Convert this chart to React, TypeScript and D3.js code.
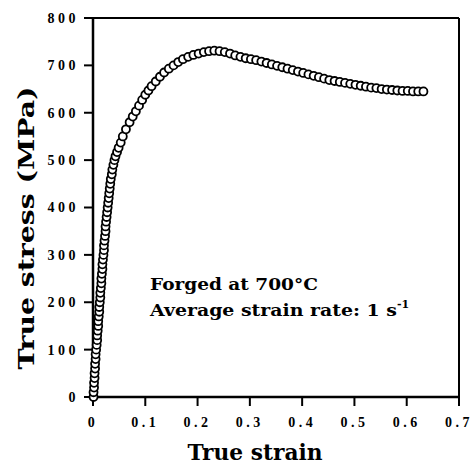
import React from "react";
import * as d3 from "d3";

const strain: number[] = [
  0.001, 0.001, 0.002, 0.002, 0.003, 0.003, 0.004, 0.004, 0.005, 0.005,
  0.006, 0.007, 0.008, 0.008, 0.009, 0.010, 0.010, 0.011, 0.012, 0.012,
  0.013, 0.014, 0.014, 0.015, 0.016, 0.016, 0.017, 0.018, 0.018, 0.019,
  0.020, 0.021, 0.021, 0.022, 0.023, 0.024, 0.024, 0.025, 0.026, 0.027,
  0.028, 0.029, 0.030, 0.031, 0.032, 0.033, 0.034, 0.036, 0.037, 0.039,
  0.041, 0.043, 0.046, 0.049, 0.053, 0.057, 0.063, 0.070, 0.076, 0.082,
  0.088, 0.094, 0.100, 0.106, 0.112, 0.120, 0.128, 0.136, 0.145, 0.154,
  0.163, 0.172, 0.182, 0.192, 0.202, 0.212, 0.222, 0.232, 0.242, 0.252,
  0.262, 0.272, 0.282, 0.292, 0.302, 0.312, 0.322, 0.332, 0.342, 0.352,
  0.362, 0.372, 0.382, 0.392, 0.402, 0.412, 0.422, 0.432, 0.442, 0.452,
  0.462, 0.472, 0.482, 0.492, 0.502, 0.512, 0.522, 0.532, 0.542, 0.552,
  0.562, 0.572, 0.582, 0.592, 0.602, 0.612, 0.622, 0.632,
];

const stress: number[] = [
  0, 10, 20, 30, 40, 50, 60, 70, 80, 90,
  100, 110, 120, 130, 140, 150, 160, 170, 180, 190,
  200, 210, 220, 230, 240, 250, 260, 270, 280, 290,
  300, 310, 320, 330, 340, 350, 360, 370, 380, 390,
  400, 410, 420, 430, 440, 450, 460, 470, 480, 490,
  500, 508, 517, 526, 537, 550, 565, 580, 592, 603,
  615, 627, 638, 647, 656, 666, 676, 685, 693, 700,
  707, 713, 718, 722, 725, 728, 730, 731, 730, 728,
  725, 721, 718, 715, 713, 711, 708, 705, 702, 699,
  696, 693, 690, 687, 684, 681, 678, 675, 672, 669,
  667, 665, 663, 661, 659, 657, 655, 653, 652, 650,
  649, 648, 647, 646, 646, 645, 645, 645,
];

const xTicks: number[] = [0, 0.1, 0.2, 0.3, 0.4, 0.5, 0.6, 0.7];
const xTickLabels: string[] = ["0", "0.1", "0.2", "0.3", "0.4", "0.5", "0.6", "0.7"];
const yTicks: number[] = [0, 100, 200, 300, 400, 500, 600, 700, 800];
const yTickLabels: string[] = ["0", "100", "200", "300", "400", "500", "600", "700", "800"];

const xTitle = "True strain";
const yTitle = "True stress (MPa)";
const note1 = "Forged at 700°C";
const note2 = "Average strain rate: 1 s";
const note2sup = "-1";

const W = 474;
const H = 468;
const left = 93;
const right = 459;
const top = 18;
const bottom = 397;

export default function App() {
  const x = d3.scaleLinear().domain([0, 0.7]).range([left, right]);
  const y = d3.scaleLinear().domain([0, 800]).range([bottom, top]);
  const tickFont = "'Liberation Serif', serif";
  const titleFont = "'DejaVu Serif', 'Liberation Serif', serif";
  const pts = strain.map((s, i) => [s, stress[i]] as [number, number]);

  return (
    <svg
      width={W}
      height={H}
      style={{ position: "absolute", left: 0, top: 0, background: "#fff" }}
    >
      <rect x={0} y={0} width={W} height={H} fill="#fff" />
      {/* frame */}
      <line x1={left} y1={top} x2={right} y2={top} stroke="#000" strokeWidth={2} />
      <line x1={right} y1={top} x2={right} y2={bottom} stroke="#000" strokeWidth={2} />
      <line x1={left} y1={top} x2={left} y2={bottom} stroke="#000" strokeWidth={2.5} />
      <line x1={left} y1={bottom} x2={right} y2={bottom} stroke="#000" strokeWidth={2.5} />

      {/* x ticks */}
      {xTicks.map((t, i) => (
        <g key={"xt" + i}>
          <line x1={x(t)} y1={bottom} x2={x(t)} y2={bottom + 9} stroke="#000" strokeWidth={2} />
          <text
            x={x(t)}
            y={427}
            textAnchor="middle"
            fontFamily={tickFont}
            fontSize={14}
            fontWeight="bold"
            letterSpacing={3.5}
          >
            {xTickLabels[i]}
          </text>
        </g>
      ))}

      {/* y ticks */}
      {yTicks.map((t, i) => (
        <g key={"yt" + i}>
          <line x1={left - 9} y1={y(t)} x2={left} y2={y(t)} stroke="#000" strokeWidth={2} />
          <text
            x={79}
            y={y(t)}
            dy="0.35em"
            textAnchor="end"
            fontFamily={tickFont}
            fontSize={14}
            fontWeight="bold"
            letterSpacing={3.5}
          >
            {yTickLabels[i]}
          </text>
        </g>
      ))}

      {/* data */}
      {pts.map((p, i) => (
        <circle
          key={"p" + i}
          cx={x(p[0])}
          cy={y(p[1])}
          r={4}
          fill="#fff"
          stroke="#000"
          strokeWidth={1.8}
        />
      ))}

      {/* annotations */}
      <text
        x={150}
        y={290}
        fontFamily={titleFont}
        fontSize={17}
        fontWeight="bold"
        textLength={168}
        lengthAdjust="spacingAndGlyphs"
      >
        {note1}
      </text>
      <text x={150} y={316} fontFamily={titleFont} fontSize={17} fontWeight="bold">
        <tspan textLength={247} lengthAdjust="spacingAndGlyphs">{note2}</tspan>
        <tspan fontSize={11} dy={-8}>{note2sup}</tspan>
      </text>

      {/* axis titles */}
      <text
        x={255}
        y={460}
        textAnchor="middle"
        fontFamily={titleFont}
        fontSize={22}
        fontWeight="bold"
        textLength={135}
        lengthAdjust="spacingAndGlyphs"
      >
        {xTitle}
      </text>
      <text
        transform={`translate(34, ${228}) rotate(-90)`}
        textAnchor="middle"
        fontFamily={titleFont}
        fontSize={22}
        fontWeight="bold"
        textLength={283}
        lengthAdjust="spacingAndGlyphs"
      >
        {yTitle}
      </text>
    </svg>
  );
}
